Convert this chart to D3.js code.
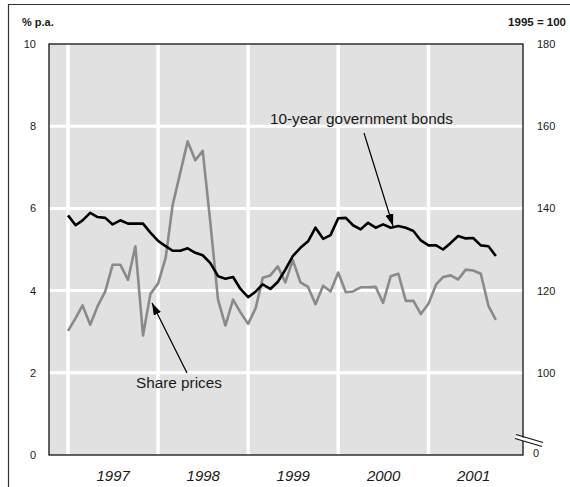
<!DOCTYPE html>
<html><head><meta charset="utf-8">
<script src="https://cdn.jsdelivr.net/npm/d3@7"></script>
<style>
body{margin:0;background:#fff}
svg{display:block;font-family:Arial,"Liberation Sans",Helvetica,sans-serif}
</style>
</head><body><svg id="c" width="570" height="487"></svg>
<script>
// ---- data (monthly, starting January 1997) ----
const startYear = 1997;
const bondYields = [ // 10-year government bonds, % p.a. (left axis)
  5.83,5.59,5.71,5.89,5.79,5.77,5.61,5.71,5.63,5.63,5.63,5.41,
  5.21,5.08,4.97,4.97,5.03,4.92,4.86,4.67,4.35,4.29,4.33,4.04,
  3.84,3.98,4.15,4.04,4.21,4.51,4.84,5.04,5.20,5.53,5.26,5.35,
  5.76,5.77,5.59,5.49,5.65,5.53,5.61,5.53,5.57,5.53,5.45,5.22,
  5.10,5.10,5.00,5.16,5.33,5.27,5.28,5.10,5.08,4.84];
const sharePrices = [ // share price index, 1995 = 100 (right axis)
  110.2,113.3,116.4,111.7,116.2,119.8,126.3,126.3,122.6,130.8,109.1,119.2,
  121.7,128.0,140.8,148.7,156.3,151.7,154.0,136.5,117.8,111.5,117.8,114.7,
  111.9,115.8,123.1,123.7,125.9,122.0,127.4,122.0,120.9,116.7,121.2,119.8,
  124.4,119.6,119.8,120.8,120.8,120.9,117.0,123.5,124.1,117.5,117.5,114.3,
  116.8,121.5,123.3,123.7,122.7,125.1,124.9,124.1,116.3,112.9];
const leftTicks = [0,2,4,6,8,10];
const rightTicks = [80,100,120,140,160,180];   // 80 is shown as "0" after the axis break
const rightTickLabels = ["0","100","120","140","160","180"];
const yearLabels = [1997,1998,1999,2000,2001];
const leftUnit = "% p.a.";
const rightUnit = "1995 = 100";
const bondLabel = "10-year government bonds";
const shareLabel = "Share prices";

// ---- layout ----
const L = 49, R = 523, T = 44, B = 455;
const svg = d3.select("#c");
const x = d3.scaleTime().domain([new Date(1996,9,16), new Date(2002,0,19)]).range([L,R]);
const yL = d3.scaleLinear().domain([0,10]).range([B,T]);
const yR = d3.scaleLinear().domain([80,180]).range([B,T]);
const monthDate = i => new Date(startYear, i, 1);

// outer frame
svg.append("path").attr("d", `M8.5,487V4.5H570`).attr("fill","none").attr("stroke","#333").attr("stroke-width",1.2);

// plot background
svg.append("rect").attr("x",L).attr("y",T).attr("width",R-L).attr("height",B-T).attr("fill","#e1e1e1");

// grid
svg.append("g").selectAll("line").data(leftTicks.filter(d=>d>0&&d<10)).join("line")
  .attr("x1",L).attr("x2",R).attr("y1",d=>yL(d)).attr("y2",d=>yL(d))
  .attr("stroke","#fff").attr("stroke-width",3);
svg.append("g").selectAll("line").data(yearLabels).join("line")
  .attr("x1",d=>x(new Date(d,0,1))).attr("x2",d=>x(new Date(d,0,1)))
  .attr("y1",T).attr("y2",B).attr("stroke","#fff").attr("stroke-width",3.5);

// lines
const lineL = d3.line().x((d,i)=>x(monthDate(i))).y(d=>yL(d));
const lineR = d3.line().x((d,i)=>x(monthDate(i))).y(d=>yR(d));
svg.append("path").datum(sharePrices).attr("d",lineR).attr("fill","none")
  .attr("stroke","#8a8a8a").attr("stroke-width",2.6).attr("stroke-linejoin","round");
svg.append("path").datum(bondYields).attr("d",lineL).attr("fill","none")
  .attr("stroke","#000").attr("stroke-width",2.6).attr("stroke-linejoin","round");

// plot border
svg.append("rect").attr("x",L).attr("y",T).attr("width",R-L).attr("height",B-T)
  .attr("fill","none").attr("stroke","#111").attr("stroke-width",1.3);

// axis break on the right axis
const bx1 = R-7, bx2 = R+19;
svg.append("path").attr("d",`M${bx1},${435.5}L${bx2},${443}L${bx2},${446.5}L${bx1},${439}Z`).attr("fill","#fff");
svg.append("line").attr("x1",bx1).attr("y1",434.5).attr("x2",bx2+1).attr("y2",442.5).attr("stroke","#111").attr("stroke-width",1.2);
svg.append("line").attr("x1",bx1-1).attr("y1",438.5).attr("x2",bx2).attr("y2",446.5).attr("stroke","#111").attr("stroke-width",1.2);

// axes
const fontCol = "#1a1a1a";
const gL = svg.append("g").attr("transform",`translate(${L},0)`)
  .call(d3.axisLeft(yL).tickValues(leftTicks).tickSize(0).tickPadding(13));
const gR = svg.append("g").attr("transform",`translate(${R},0)`)
  .call(d3.axisRight(yR).tickValues(rightTicks).tickSize(0).tickPadding(14)
    .tickFormat((d,i)=>rightTickLabels[i]));
const gB = svg.append("g").attr("transform",`translate(0,${B})`)
  .call(d3.axisBottom(x).tickValues(yearLabels.map(y=>new Date(y,6,1))).tickSize(0).tickPadding(15)
    .tickFormat(d3.timeFormat("%Y")));
[gL,gR,gB].forEach(g=>{g.select(".domain").remove();
  g.selectAll("text").attr("fill",fontCol).attr("font-family","Arial, 'Liberation Sans', sans-serif");});
gL.selectAll("text").attr("font-size",11);
gR.selectAll("text").attr("font-size",11);
gR.selectAll(".tick").filter(d=>d===80).select("text").attr("x",10).attr("dy","0.1em");
gB.selectAll("text").attr("font-size",15).attr("font-style","italic");

// units
svg.append("text").attr("x",22).attr("y",26).attr("font-size",11).attr("font-weight","bold").attr("fill",fontCol).text(leftUnit);
svg.append("text").attr("x",566).attr("y",26).attr("text-anchor","end").attr("font-size",11.5).attr("font-weight","bold").attr("fill",fontCol).text(rightUnit);

// annotations
const defs = svg.append("defs");
defs.append("marker").attr("id","ah").attr("viewBox","0 0 12 8").attr("refX",12).attr("refY",4)
  .attr("markerWidth",12).attr("markerHeight",8).attr("markerUnits","userSpaceOnUse").attr("orient","auto")
  .append("path").attr("d","M0,0L12,4L0,8Z").attr("fill","#000");
svg.append("line").attr("x1",364).attr("y1",133).attr("x2",393).attr("y2",226)
  .attr("stroke","#000").attr("stroke-width",1.2).attr("marker-end","url(#ah)");
svg.append("line").attr("x1",187).attr("y1",373).attr("x2",152).attr("y2",303)
  .attr("stroke","#000").attr("stroke-width",1.2).attr("marker-end","url(#ah)");
svg.append("text").attr("x",270).attr("y",124).attr("font-size",15.3).attr("fill",fontCol).text(bondLabel);
svg.append("text").attr("x",136).attr("y",388).attr("font-size",15.3).attr("fill",fontCol).text(shareLabel);
</script>
</body></html>
